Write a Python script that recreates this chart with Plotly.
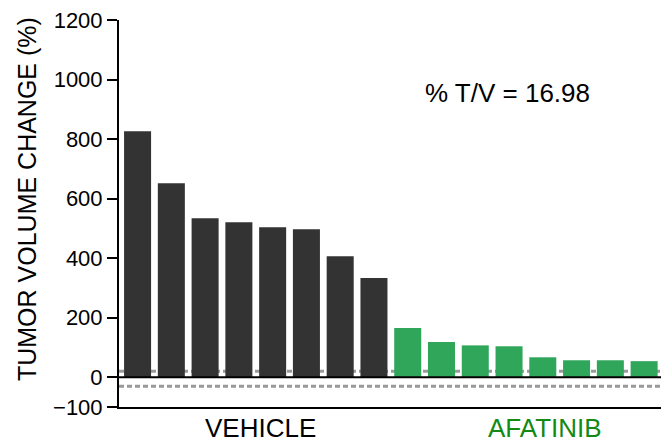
import plotly.graph_objects as go

vehicle_values = [826, 652, 534, 521, 504, 497, 406, 333]
afatinib_values = [165, 118, 107, 104, 67, 57, 57, 54]
group_labels = ["VEHICLE", "AFATINIB"]
y_tick_values = [-100, 0, 200, 400, 600, 800, 1000, 1200]
threshold_upper = 20
threshold_lower = -30
tv_text = "% T/V = 16.98"

n_v = len(vehicle_values)
n_a = len(afatinib_values)
x_v = list(range(n_v))
x_a = list(range(n_v, n_v + n_a))

fig = go.Figure()
fig.add_trace(go.Bar(x=x_v, y=vehicle_values, marker=dict(color="#333333", line=dict(width=0)),
                     width=0.8, showlegend=False))
fig.add_trace(go.Bar(x=x_a, y=afatinib_values, marker=dict(color="#30A65A", line=dict(width=0)),
                     width=0.8, showlegend=False))

xmin, xmax = -0.55, n_v + n_a - 0.5
# threshold dashed lines (behind bars)
for yv in (threshold_upper, threshold_lower):
    fig.add_shape(type="line", xref="x", yref="y", x0=xmin, x1=xmax, y0=yv, y1=yv,
                  line=dict(color="#9a9a9a", width=3, dash="5px,3px"), layer="below")
# zero line
fig.add_shape(type="line", xref="x", yref="y", x0=xmin, x1=xmax, y0=0, y1=0,
              line=dict(color="black", width=2), layer="above")

fig.add_annotation(x=(n_v - 1) / 2 + 0.15, y=-0.055, xref="x", yref="paper", text=group_labels[0],
                   showarrow=False, font=dict(family="Liberation Sans", size=26, color="black"),
                   xanchor="center", yanchor="middle")
fig.add_annotation(x=n_v + (n_a - 1) / 2 + 0.55, y=-0.055, xref="x", yref="paper", text=group_labels[1],
                   showarrow=False, font=dict(family="Liberation Sans", size=26, color="#138A13"),
                   xanchor="center", yanchor="middle")
fig.add_annotation(x=10.96, y=954, xref="x", yref="y", text=tv_text, showarrow=False,
                   font=dict(family="Liberation Sans", size=26, color="black"),
                   xanchor="center", yanchor="middle")
fig.add_annotation(x=-0.17, y=0.537, xref="paper", yref="paper", text="TUMOR VOLUME CHANGE (%)",
                   textangle=-90, showarrow=False,
                   font=dict(family="Liberation Sans", size=25, color="black"),
                   xanchor="center", yanchor="middle")

fig.update_layout(
    width=661, height=437,
    margin=dict(l=111, r=8, t=12, b=38, autoexpand=False),
    paper_bgcolor="white", plot_bgcolor="white",
    bargap=0.2,
    xaxis=dict(range=[xmin, xmax], showticklabels=False, ticks="", showgrid=False, zeroline=False,
               showline=True, linecolor="black", linewidth=2, automargin=False),
    yaxis=dict(range=[-100, 1200], tickvals=y_tick_values, showgrid=False, zeroline=False,
               showline=True, linecolor="black", linewidth=2, ticks="outside", ticklen=10,
               tickwidth=2, tickcolor="black", ticklabeloverflow="allow", automargin=False,
               tickfont=dict(family="Liberation Sans", size=22, color="black")),
)

fig.write_html("out.html")
